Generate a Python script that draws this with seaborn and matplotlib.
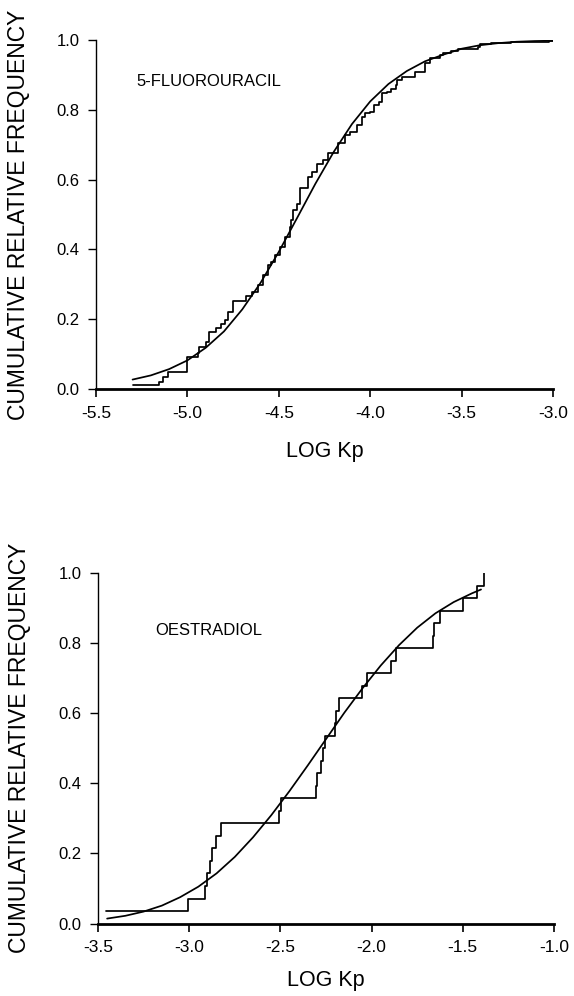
import numpy as np
import pandas as pd
import matplotlib
matplotlib.use("Agg")
import matplotlib.pyplot as plt
import seaborn as sns

# ---------------- data ----------------
# 5-fluorouracil: empirical cumulative frequency (step positions / levels)
FU_STEP_X = [-5.297, -5.158, -5.136, -5.108, -5.004, -4.943, -4.938, -4.897, -4.883,
             -4.843, -4.815, -4.797, -4.778, -4.751, -4.678, -4.645, -4.614, -4.586,
             -4.559, -4.541, -4.520, -4.495, -4.467, -4.440, -4.431, -4.421, -4.400,
             -4.385, -4.339, -4.320, -4.293, -4.256, -4.229, -4.176, -4.137, -4.110,
             -4.073, -4.046, -4.027, -4.000, -3.980, -3.953, -3.934, -3.907, -3.888,
             -3.861, -3.852, -3.824, -3.755, -3.700, -3.672, -3.620, -3.600, -3.556,
             -3.520, -3.410, -3.400, -3.340, -3.230, -3.020, -3.000]
FU_STEP_Y = [0.011, 0.021, 0.035, 0.050, 0.093, 0.102, 0.121, 0.136, 0.164,
             0.174, 0.186, 0.198, 0.222, 0.253, 0.266, 0.279, 0.298, 0.327,
             0.355, 0.365, 0.385, 0.408, 0.436, 0.465, 0.484, 0.513, 0.530,
             0.575, 0.608, 0.623, 0.646, 0.656, 0.677, 0.704, 0.727, 0.737,
             0.756, 0.780, 0.790, 0.795, 0.814, 0.823, 0.847, 0.852, 0.861,
             0.871, 0.885, 0.895, 0.909, 0.933, 0.947, 0.957, 0.962, 0.969,
             0.974, 0.981, 0.988, 0.992, 0.995, 0.998, 1.000]

# 5-fluorouracil: fitted smooth curve
FU_FIT_X = [-5.30, -5.20, -5.10, -5.00, -4.90, -4.80, -4.70, -4.60, -4.50, -4.40,
            -4.30, -4.20, -4.10, -4.00, -3.90, -3.80, -3.70, -3.60, -3.50, -3.40,
            -3.30, -3.20, -3.10, -3.00]
FU_FIT_Y = [0.027, 0.039, 0.057, 0.082, 0.118, 0.165, 0.228, 0.304, 0.393, 0.490,
            0.588, 0.679, 0.759, 0.824, 0.874, 0.911, 0.939, 0.958, 0.975, 0.985,
            0.991, 0.995, 0.997, 0.998]

# oestradiol: empirical cumulative frequency (28 values)
OE_STEP_X = [-3.456, -3.008, -2.916, -2.900, -2.885, -2.875, -2.855, -2.826,
             -2.510, -2.494, -2.304, -2.300, -2.275, -2.268, -2.253, -2.198,
             -2.195, -2.179, -2.050, -2.025, -1.894, -1.866, -1.664, -1.660,
             -1.627, -1.498, -1.420, -1.385]
OE_STEP_Y = [0.036, 0.071, 0.107, 0.143, 0.179, 0.214, 0.250, 0.286,
             0.321, 0.357, 0.393, 0.429, 0.464, 0.500, 0.536, 0.571,
             0.607, 0.643, 0.679, 0.714, 0.750, 0.786, 0.821, 0.857,
             0.893, 0.929, 0.964, 1.000]

# oestradiol: fitted smooth curve
OE_FIT_X = [-3.45, -3.35, -3.25, -3.15, -3.05, -2.95, -2.85, -2.75, -2.65, -2.55,
            -2.45, -2.35, -2.25, -2.15, -2.05, -1.95, -1.85, -1.75, -1.65, -1.55,
            -1.45, -1.40]
OE_FIT_Y = [0.014, 0.022, 0.034, 0.051, 0.075, 0.105, 0.143, 0.190, 0.246, 0.309,
            0.378, 0.451, 0.526, 0.601, 0.671, 0.736, 0.794, 0.844, 0.885, 0.917,
            0.942, 0.953]

Y_TICKS = [0.0, 0.2, 0.4, 0.6, 0.8, 1.0]
Y_TICK_LABELS = ["0.0", "0.2", "0.4", "0.6", "0.8", "1.0"]
FU_X_TICKS = [-5.5, -5.0, -4.5, -4.0, -3.5, -3.0]
FU_X_TICK_LABELS = ["-5.5", "-5.0", "-4.5", "-4.0", "-3.5", "-3.0"]
OE_X_TICKS = [-3.5, -3.0, -2.5, -2.0, -1.5, -1.0]
OE_X_TICK_LABELS = ["-3.5", "-3.0", "-2.5", "-2.0", "-1.5", "-1.0"]

X_LABEL = "LOG Kp"
Y_LABEL = "CUMULATIVE RELATIVE FREQUENCY"

# ---------------- style ----------------
sns.set_theme(style="ticks")
plt.rcParams["font.family"] = ["Liberation Sans", "DejaVu Sans"]
plt.rcParams["axes.unicode_minus"] = False
plt.rcParams["text.color"] = "black"
plt.rcParams["axes.labelcolor"] = "black"
plt.rcParams["xtick.color"] = "black"
plt.rcParams["ytick.color"] = "black"

fig = plt.figure(figsize=(5.74, 9.96), dpi=100)
fig.patch.set_facecolor("white")

ax1 = fig.add_axes([96 / 574, 1 - 389 / 996, 457 / 574, 349 / 996])
ax2 = fig.add_axes([98 / 574, 1 - 923.5 / 996, 456 / 574, 350.5 / 996])

LW = 1.25


def panel(ax, sx, sy, fx, fy, xticks, xticklabels, name, name_xy,
          xlabel_y, ylabel_x):
    sns.lineplot(x=sx, y=sy, ax=ax, color="black", lw=LW,
                 drawstyle="steps-post", estimator=None, sort=False)
    sns.lineplot(x=fx, y=fy, ax=ax, color="black", lw=LW,
                 estimator=None, sort=False)
    ax.set_xlim(xticks[0], xticks[-1])
    ax.set_ylim(0, 1)
    ax.set_xticks(xticks)
    ax.set_xticklabels(xticklabels)
    ax.set_yticks(Y_TICKS)
    ax.set_yticklabels(Y_TICK_LABELS)
    ax.set_facecolor("white")
    sns.despine(ax=ax)
    ax.spines["left"].set_linewidth(1.0)
    ax.spines["bottom"].set_linewidth(2.0)
    ax.spines["left"].set_color("black")
    ax.spines["bottom"].set_color("black")
    ax.tick_params(axis="y", direction="out", length=6, width=1.0,
                   labelsize=12, pad=6)
    ax.tick_params(axis="x", direction="out", length=6, width=1.2,
                   labelsize=12.5, pad=6)
    ax.set_xlabel(X_LABEL, fontsize=15.5)
    ax.xaxis.set_label_coords(0.5, xlabel_y)
    ax.xaxis.label.set_va("center")
    ax.set_ylabel(Y_LABEL, fontsize=16.5)
    ax.yaxis.set_label_coords(ylabel_x, 0.5)
    ax.yaxis.label.set_va("center")
    ax.yaxis.label.set_ha("center")
    ax.text(name_xy[0], name_xy[1], name, fontsize=12, ha="left",
            va="center", color="black")
    if ax.get_legend() is not None:
        ax.get_legend().remove()


panel(ax1, FU_STEP_X, FU_STEP_Y, FU_FIT_X, FU_FIT_Y, FU_X_TICKS,
      FU_X_TICK_LABELS, "5-FLUOROURACIL", (-5.281, 0.8825), -0.178, -0.170)
panel(ax2, OE_STEP_X, OE_STEP_Y, OE_FIT_X, OE_FIT_Y, OE_X_TICKS,
      OE_X_TICK_LABELS, "OESTRADIOL", (-3.1875, 0.837), -0.164, -0.172)

fig.savefig("out.png", dpi=100, facecolor="white")
